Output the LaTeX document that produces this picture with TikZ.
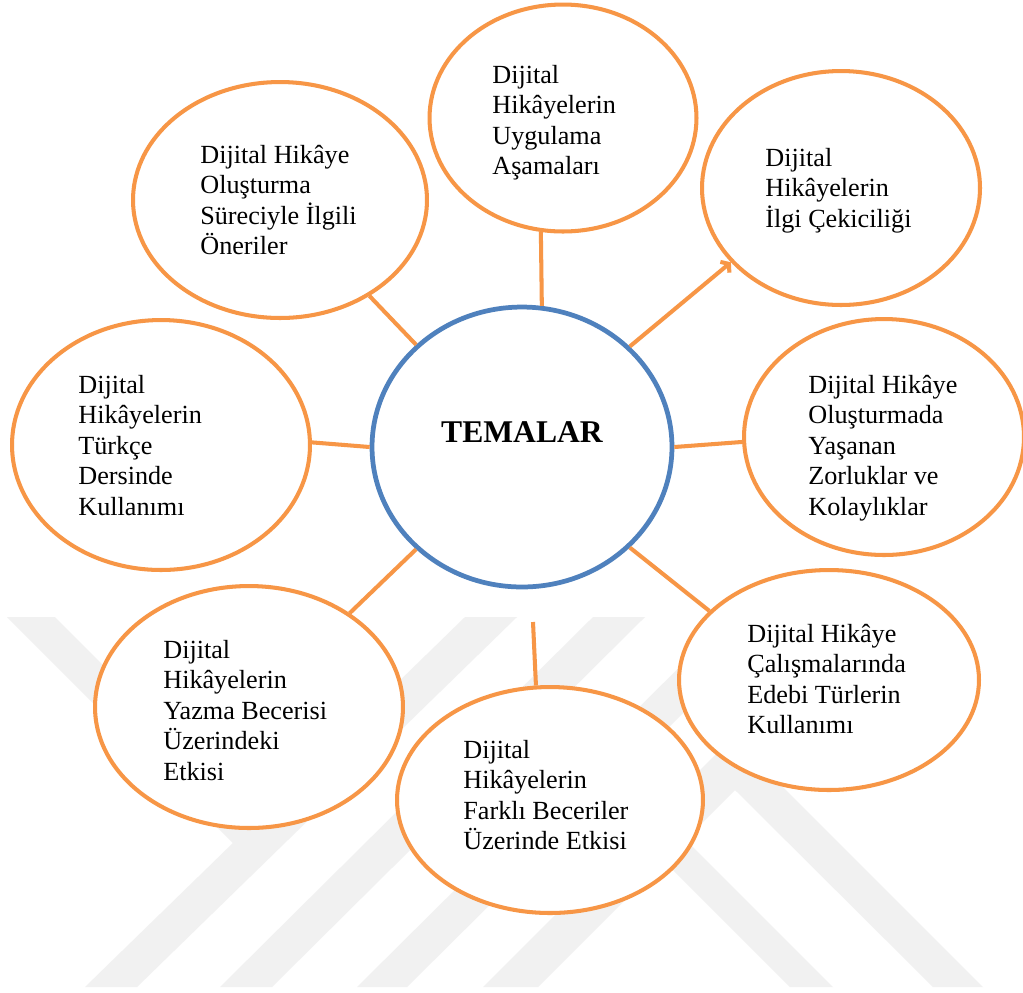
\documentclass[tikz,border=0pt]{standalone}
\usepackage{fontspec}
\setmainfont{Liberation Serif}
\usetikzlibrary{shapes.geometric,arrows.meta}
\definecolor{bubbleorange}{HTML}{F79646}
\definecolor{hubblue}{HTML}{4F81BD}
\definecolor{markgray}{RGB}{241,241,241}

\begin{document}
\begin{tikzpicture}[x=0.02cm,y=-0.02cm,
  theme/.style={ellipse, draw=bubbleorange, line width=2.3pt, fill=white, inner sep=0pt},
  hub/.style={ellipse, draw=hubblue, line width=2.7pt, fill=white, inner sep=0pt,
              minimum width=6cm, minimum height=5.6cm},
  themetext/.style={anchor=north west, inner sep=0pt, align=left,
                    font=\fontsize{14.9pt}{17.3pt}\selectfont},
  spoke/.style={draw=bubbleorange, line width=2.3pt},
  wmark/.style={fill=markgray}
]
% page area
\useasboundingbox[fill=white] (0,0) rectangle (1023,992);

% faint background emblem made of slanted bands
\fill[wmark] (7,617) -- (55,617) -- (265,827) -- (241,851) -- cycle;
\fill[wmark] (85,987) -- (137,987) -- (517,617) -- (465,617) -- cycle;
\fill[wmark] (220,987) -- (272,987) -- (645,617) -- (593,617) -- cycle;
\fill[wmark] (357,987) -- (407,987) -- (780,617) -- (730,617) -- cycle;
\fill[wmark] (483,987) -- (538,987) -- (735,790) -- (933,987) -- (983,987) -- (733,737) -- cycle;
\fill[wmark] (790,987) -- (833,987) -- (633,787) -- (590,787) -- cycle;

% central hub
\node[hub] (hub) at (522,447) {};
\node[inner sep=0pt, font=\fontsize{18pt}{21pt}\selectfont\bfseries] (hubtext) at (522,432) {TEMALAR};

% theme bubbles
\node[theme, minimum width=5.34cm, minimum height=4.54cm] (uyg)    at (563,118) {};
\node[theme, minimum width=5.88cm, minimum height=4.72cm] (oneri)  at (280,200) {};
\node[theme, minimum width=5.56cm, minimum height=4.68cm] (ilgi)   at (841,188) {};
\node[theme, minimum width=5.60cm, minimum height=4.72cm] (zorluk) at (884,437) {};
\node[theme, minimum width=6.00cm, minimum height=4.40cm] (edebi)  at (829,680) {};
\node[theme, minimum width=6.12cm, minimum height=4.52cm] (farkli) at (550,800) {};
\node[theme, minimum width=6.16cm, minimum height=4.84cm] (yazma)  at (249,707) {};
\node[theme, minimum width=5.96cm, minimum height=5.00cm] (turkce) at (161,445) {};

% bubble captions
\node[themetext] (uygtext)    at (492,65)  {Dijital\\Hikâyelerin\\Uygulama\\Aşamaları};
\node[themetext] (oneritext)  at (200,145) {Dijital Hikâye\\Oluşturma\\Süreciyle İlgili\\Öneriler};
\node[themetext] (ilgitext)   at (765,148) {Dijital\\Hikâyelerin\\İlgi Çekiciliği};
\node[themetext] (zorluktext) at (808,375) {Dijital Hikâye\\Oluşturmada\\Yaşanan\\Zorluklar ve\\Kolaylıklar};
\node[themetext] (edebitext)  at (747,624) {Dijital Hikâye\\Çalışmalarında\\Edebi Türlerin\\Kullanımı};
\node[themetext] (farklitext) at (463,740) {Dijital\\Hikâyelerin\\Farklı Beceriler\\Üzerinde Etkisi};
\node[themetext] (yazmatext)  at (163,640) {Dijital\\Hikâyelerin\\Yazma Becerisi\\Üzerindeki\\Etkisi};
\node[themetext] (turkcetext) at (78,375)  {Dijital\\Hikâyelerin\\Türkçe\\Dersinde\\Kullanımı};

% spokes
\draw[spoke] (hub.82) -- (uyg.259);
\draw[spoke] (hub.136) -- (oneri.-47);
\draw[spoke, -{Straight Barb[length=3pt,width=8pt]}] (hub.43) -- (ilgi.214);
\draw[spoke] (hub.0) -- (zorluk.182);
\draw[spoke] (hub.-43) -- (edebi.150);
\coordinate (gapend) at (533,622);
\draw[spoke] (gapend) -- (farkli.97);
\draw[spoke] (hub.224) -- (yazma.43);
\draw[spoke] (hub.180) -- (turkce.1);
\end{tikzpicture}
\end{document}
